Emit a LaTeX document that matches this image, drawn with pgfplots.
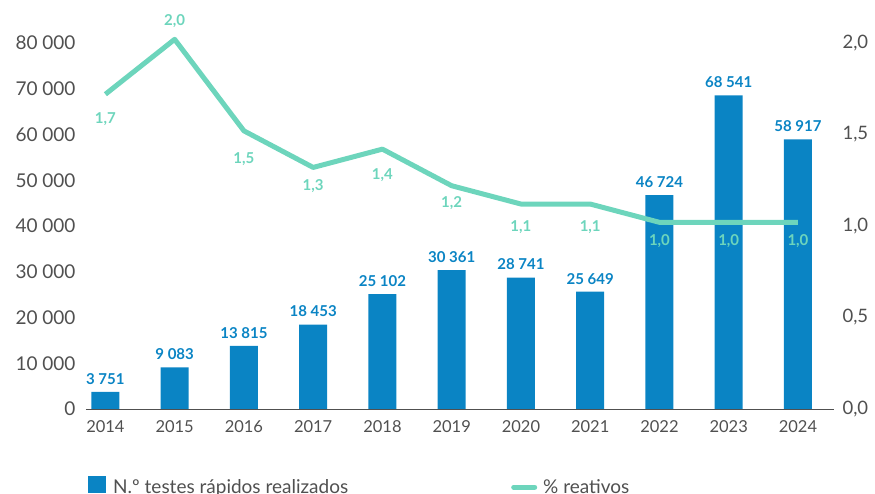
\documentclass[border=0pt]{standalone}
\usepackage{pgfplots}
\usepackage{pgfplotstable}
\pgfplotsset{compat=1.18}
\usepackage{fontspec}
\setmainfont{Lato}
\definecolor{barblue}{HTML}{0A84C4}
\definecolor{linegreen}{HTML}{6DD5BC}
\definecolor{txtgray}{HTML}{505050}

\pgfplotstableread{
x y lab off
0 1.72 1,7 -25
1 2.02 2,0 18
2 1.52 1,5 -28
3 1.32 1,3 -19
4 1.42 1,4 -26
5 1.22 1,2 -17
6 1.12 1,1 -23
7 1.12 1,1 -23
8 1.02 1,0 -19
9 1.02 1,0 -19
10 1.02 1,0 -19
}\pcttable

\begin{document}
\begin{tikzpicture}[font=\fontsize{18}{20}\selectfont]
\pgfplotsset{
 common/.style={
  width=748pt, height=366pt, scale only axis,
  xmin=-0.28, xmax=10.52,
  xtick={0,...,10},
  tick style={draw=none},
  clip=false,
  /pgf/number format/assume math mode=true,
 }
}
\begin{axis}[common,
  ymin=0, ymax=80000,
  ytick={0,10000,...,80000},
  scaled y ticks=false,
  axis x line*=bottom, axis y line*=left,
  y axis line style={draw=none},
  x axis line style={draw=txtgray, line width=0.8pt, -},
  yticklabel style={/pgf/number format/1000 sep={\ }, text=txtgray, font=\fontsize{19}{20}\selectfont, xshift=-7pt},
  xticklabels={2014,2015,2016,2017,2018,2019,2020,2021,2022,2023,2024},
  xticklabel style={text=txtgray, font=\fontsize{16.5}{18}\selectfont, yshift=-4pt},
  ybar, bar width=28pt,
  legend style={at={(0,0)}, anchor=north west, xshift=2pt, yshift=-67pt, draw=none, fill=none, inner sep=0pt,
    font=\fontsize{19}{20}\selectfont, text=txtgray},
  legend image code/.code={\path[draw=none,fill=none] (0pt,-6pt) rectangle (23pt,11pt); \fill[barblue] (0pt,-6pt) rectangle (18pt,11pt);},
]
\addplot[fill=barblue, draw=none,
  nodes near coords, point meta=explicit symbolic,
  nodes near coords style={font=\bfseries\fontsize{15}{16}\selectfont, text=barblue, anchor=south, yshift=4pt}]
  coordinates {
  (0,3751) [3\ 751]
  (1,9083) [9\ 083]
  (2,13815) [13\ 815]
  (3,18453) [18\ 453]
  (4,25102) [25\ 102]
  (5,30361) [30\ 361]
  (6,28741) [28\ 741]
  (7,25649) [25\ 649]
  (8,46724) [46\ 724]
  (9,68541) [68\ 541]
  (10,58917) [58\ 917]
  };
\addlegendentry{N.º testes rápidos realizados}
\end{axis}
\begin{axis}[common,
  ymin=0, ymax=2,
  ytick={0,0.5,...,2},
  axis x line=none, axis y line*=right,
  y axis line style={draw=none},
  xticklabels={},
  yticklabel style={/pgf/number format/.cd, fixed, fixed zerofill, precision=1, use comma, /tikz/.cd, text=txtgray, font=\fontsize{18.5}{19}\selectfont, xshift=5pt},
  legend style={at={(0,0)}, anchor=north west, xshift=425pt, yshift=-67pt, draw=none, fill=none, inner sep=0pt,
    font=\fontsize{19}{20}\selectfont, text=txtgray},
  legend image code/.code={\path[draw=none,fill=none] (0pt,-6pt) rectangle (30pt,11pt); \draw[linegreen, line width=5pt, line cap=round] (2.5pt,0pt) -- (23.5pt,0pt);},
]
\addplot[linegreen, line width=5pt, line join=round, mark=none,
  nodes near coords, point meta=explicit symbolic,
  visualization depends on={\thisrow{off} \as \off},
  every node near coord/.append style={anchor=center, text=linegreen, font=\bfseries\fontsize{15}{16}\selectfont, yshift=\off pt}]
  table[x=x, y=y, meta=lab] {\pcttable};
\addlegendentry{\% reativos}
\end{axis}
\pgfresetboundingbox
\useasboundingbox (-86pt,-85pt) rectangle (789pt,409pt);
\end{tikzpicture}
\end{document}
